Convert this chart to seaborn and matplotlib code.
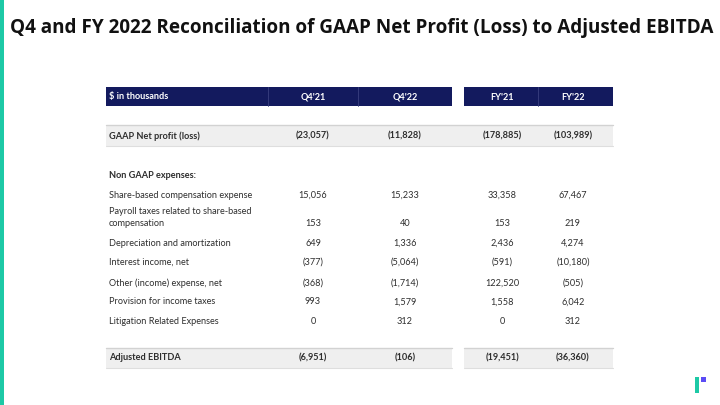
import seaborn as sns
import matplotlib.pyplot as plt
from matplotlib.patches import Rectangle

# Table content
title = "Q4 and FY 2022 Reconciliation of GAAP Net Profit (Loss) to Adjusted EBITDA"
unit_label = "$ in thousands"
periods = ["Q4'21", "Q4'22", "FY'21", "FY'22"]

gaap_label = "GAAP Net profit (loss)"
gaap_values = ["(23,057)", "(11,828)", "(178,885)", "(103,989)"]

section_label = "Non GAAP expenses:"
item_labels = [
    "Share-based compensation expense",
    "Payroll taxes related to share-based\ncompensation",
    "Depreciation and amortization",
    "Interest income, net",
    "Other (income) expense, net",
    "Provision for income taxes",
    "Litigation Related Expenses",
]
item_values = [
    ["15,056", "15,233", "33,358", "67,467"],
    ["153", "40", "153", "219"],
    ["649", "1,336", "2,436", "4,274"],
    ["(377)", "(5,064)", "(591)", "(10,180)"],
    ["(368)", "(1,714)", "122,520", "(505)"],
    ["993", "1,579", "1,558", "6,042"],
    ["0", "312", "0", "312"],
]

ebitda_label = "Adjusted EBITDA"
ebitda_values = ["(6,951)", "(106)", "(19,451)", "(36,360)"]

# Layout (pixel coordinates on a 720x405 canvas)
col_x = [313, 405, 502, 573]
item_y = [195, 224, 243, 262, 283, 302, 321]
navy = "#131a5e"
teal = "#1dc9a6"
text_color = "#2e2e2e"

sns.set_theme(style="white")
plt.rcParams["font.family"] = ["Lato", "DejaVu Sans"]

fig = plt.figure(figsize=(7.2, 4.05), dpi=100)
ax = fig.add_axes([0, 0, 1, 1])
ax.set_xlim(0, 720)
ax.set_ylim(405, 0)
ax.axis("off")

# left accent bar
ax.add_patch(Rectangle((0, 0), 4, 405, color=teal, lw=0))

ax.text(10, 28, title, fontsize=13.6, fontweight="bold", color="#111111",
        va="center", ha="left", family=["Open Sans", "DejaVu Sans"])

# header bands
ax.add_patch(Rectangle((106, 87), 346, 19, color=navy, lw=0))
ax.add_patch(Rectangle((464, 87), 149, 19, color=navy, lw=0))
for sx in [268, 358, 538]:
    ax.plot([sx, sx], [87, 106], color="#3a4080", lw=0.6)
ax.text(109, 97, unit_label, fontsize=6.6, fontweight="bold", color="white",
        va="center", ha="left")
for x, p in zip(col_x, periods):
    ax.text(x, 97, p, fontsize=6.6, fontweight="bold", color="white",
            va="center", ha="center")

# GAAP row band
ax.add_patch(Rectangle((106, 125), 507, 21, color="#efefef", lw=0))
ax.plot([106, 613], [125, 125], color="#d2d2d2", lw=1.0)
ax.plot([106, 613], [146, 146], color="#dedede", lw=0.8)
ax.text(109, 136, gaap_label, fontsize=6.6, fontweight="bold", color=text_color,
        va="center", ha="left")
for x, v in zip(col_x, gaap_values):
    ax.text(x, 136, v, fontsize=6.6, fontweight="bold", color=text_color,
            va="center", ha="center")

ax.text(109, 175, section_label, fontsize=6.6, fontweight="bold", color=text_color,
        va="center", ha="left")

for y, lab, vals in zip(item_y, item_labels, item_values):
    if "\n" in lab:
        first, second = lab.split("\n")
        ax.text(109, y - 13, first, fontsize=6.6, color=text_color,
                va="center", ha="left")
        ax.text(109, y, second, fontsize=6.6, color=text_color,
                va="center", ha="left")
    else:
        ax.text(109, y, lab, fontsize=6.6, color=text_color,
                va="center", ha="left")
    for x, v in zip(col_x, vals):
        ax.text(x, y, v, fontsize=6.6, color=text_color, va="center", ha="center")

# Adjusted EBITDA band
for x0, w in [(106, 346), (464, 149)]:
    ax.add_patch(Rectangle((x0, 348), w, 20, color="#efefef", lw=0))
    ax.plot([x0, x0 + w], [348, 348], color="#d2d2d2", lw=1.0)
    ax.plot([x0, x0 + w], [368, 368], color="#dedede", lw=0.8)
ax.text(109, 358, ebitda_label, fontsize=6.6, fontweight="bold", color=text_color,
        va="center", ha="left")
for x, v in zip(col_x, ebitda_values):
    ax.text(x, 358, v, fontsize=6.6, fontweight="bold", color=text_color,
            va="center", ha="center")

# logo
ax.add_patch(Rectangle((695, 377), 4, 16, color=teal, lw=0))
ax.add_patch(Rectangle((701, 377), 5, 5, color="#5b4cf5", lw=0))

fig.savefig("out.png", dpi=100)
plt.close(fig)
